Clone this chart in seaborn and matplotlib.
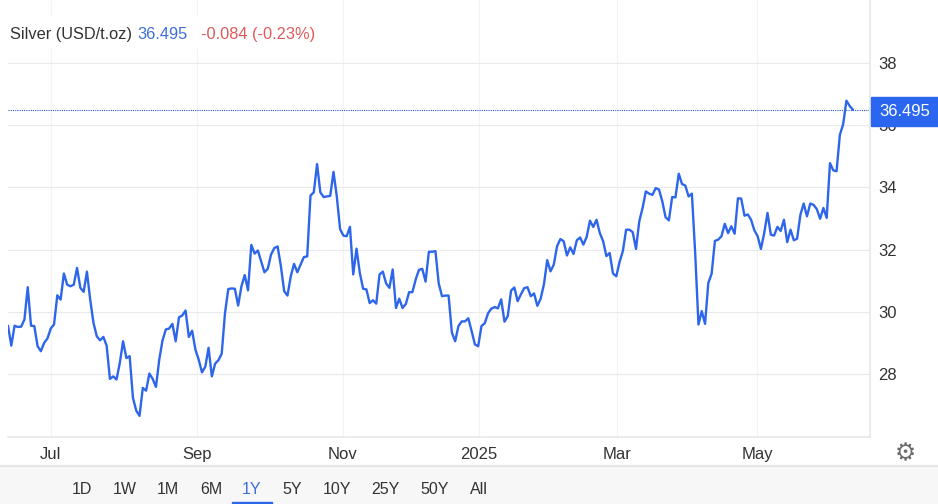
import pandas as pd
import seaborn as sns
import matplotlib.pyplot as plt
from matplotlib.patches import Rectangle

# silver price, one value per trading day
price_2024_a = [29.55, 28.91, 29.55, 29.51, 29.52, 29.75, 30.79, 29.55, 29.54, 28.89,
                28.73, 29.0, 29.14, 29.46, 29.59, 30.53, 30.39, 31.23, 30.87, 30.82,
                30.87, 31.41, 30.77, 30.64, 31.29, 30.39, 29.64, 29.21, 29.08, 29.19,
                28.91, 27.84, 27.92, 27.82, 28.35, 29.05, 28.51, 28.57, 27.23, 26.82,
                26.65, 27.55, 27.46, 28.01, 27.84, 27.58, 28.46, 29.08, 29.43, 29.46,
                29.61, 29.05, 29.82, 29.88, 30.04, 29.19, 29.39, 28.78, 28.46, 28.05,
                28.23, 28.84, 27.92, 28.33, 28.44, 28.65, 29.96, 30.73, 30.75, 30.74,
                30.2, 30.82, 31.18, 30.69, 32.15, 31.87, 31.97, 31.62, 31.27, 31.38,
                31.84, 32.05, 32.1, 31.46, 30.66, 30.52, 31.14, 31.54, 31.27, 31.52,
                31.76, 31.78]
price_2024_b = [33.74, 33.84, 34.75, 33.84, 33.69, 33.71, 33.73, 34.5, 33.71, 32.66,
                32.45, 32.43, 32.73, 31.2, 32.03, 31.25, 30.74, 30.72, 30.28, 30.37,
                30.26, 31.2, 31.29, 30.91, 30.77, 31.36, 30.12, 30.42, 30.12, 30.25,
                30.63, 30.63, 31.04, 31.35, 31.38, 30.97, 31.93, 31.93, 31.95, 30.91,
                30.5, 30.52, 30.52, 29.33, 29.05, 29.54, 29.69, 29.69, 29.79, 29.38,
                28.95, 28.89]
price_2025_a = [29.54, 29.63, 29.95, 30.1, 30.15, 30.11, 30.4, 29.68, 29.86, 30.68,
                30.78, 30.34, 30.56, 30.76, 30.79, 30.5, 30.59, 30.19, 30.42, 30.88,
                31.66, 31.3, 31.52, 32.11, 32.34, 32.27, 31.81, 32.07, 31.86, 32.3,
                32.39, 32.16, 32.41, 32.93, 32.73, 32.96, 32.53, 32.27, 31.79, 31.89,
                31.23, 31.14, 31.6, 31.95]
price_2025_b = [32.64, 32.64, 32.56, 32.02, 32.91, 33.34, 33.87, 33.8, 33.76, 33.98,
                33.93, 33.55, 33.04, 32.94, 33.69, 33.68, 34.44, 34.11, 34.06, 33.71,
                33.8, 31.89, 29.59, 30.02, 29.61, 30.93, 31.22, 32.28, 32.32, 32.43,
                32.83, 32.53, 32.75, 32.51, 33.65, 33.64, 33.09, 33.13, 32.96, 32.62,
                32.43, 32.02, 32.53, 33.18, 32.48, 32.45, 32.73, 32.6, 32.96, 32.24,
                32.64, 32.3, 32.35, 33.12, 33.48, 33.07, 33.48, 33.44, 33.3, 32.99,
                33.34, 33.02, 34.78, 34.55, 34.52, 35.69, 36.03, 36.79, 36.62, 36.495]

month_labels = ['Jul', 'Sep', 'Nov', '2025', 'Mar', 'May']
month_index = [13, 57.4, 101.8, 143.2, 185.2, 227.8]
price_ticks = [28, 30, 32, 34, 36, 38]
ranges = ['1D', '1W', '1M', '6M', '1Y', '5Y', '10Y', '25Y', '50Y', 'All']
range_x = [82, 125, 168, 211, 252, 292, 337, 385, 435, 479]

W, H = 938, 504
LINE = '#2d66ea'
TEXT = '#333333'

sns.set_theme(style='whitegrid', rc={'axes.grid': True, 'grid.color': '#e9e9ed', 'grid.linewidth': 0.8,
                                     'axes.edgecolor': '#e6e6e6', 'axes.linewidth': 1.1})
plt.rcParams['font.family'] = ['Liberation Sans', 'DejaVu Sans']

prices = price_2024_a + price_2024_b + price_2025_a + price_2025_b
df = pd.DataFrame({'day': range(len(prices)), 'price': prices})


def fx(px):
    return px / W


def fy(px):
    return 1 - px / H


fig = plt.figure(figsize=(W / 100, H / 100), dpi=100)
ax = fig.add_axes([fx(8), fy(437), fx(870 - 8), 437 / H])

sns.lineplot(data=df, x='day', y='price', color=LINE, linewidth=1.7, ax=ax, zorder=3)
ax.axhline(prices[-1], color='#2a58c8', linewidth=0.8, linestyle=(0, (1, 1)), zorder=2)

ax.set_xlim(0, (len(prices) - 1) * 862 / 845)
ax.set_ylim(25.97, 40.03)
ax.set_xticks(month_index)
ax.set_xticklabels(month_labels, fontsize=12, color=TEXT)
ax.yaxis.tick_right()
ax.set_yticks(price_ticks)
ax.set_yticklabels(price_ticks, fontsize=12, color=TEXT)
ax.grid(axis='x', color='#f1f3f7')
ax.tick_params(axis='x', length=0, pad=7)
ax.tick_params(axis='y', length=0, pad=6)
ax.set_xlabel('')
ax.set_ylabel('')
ax.spines['top'].set_visible(False)
ax.spines['left'].set_visible(False)

# range selector strip
fig.add_artist(Rectangle((0, 0), 1, fy(466), transform=fig.transFigure, color='#f7f7f7', zorder=1))
fig.add_artist(Rectangle((0, fy(466)), 1, 1 / H, transform=fig.transFigure, color='#e6e6e6', zorder=1))
for label, x in zip(ranges, range_x):
    on = label == '1Y'
    fig.text(fx(x), fy(489), label, fontsize=11.5, ha='center', va='center',
             color='#3f6fd8' if on else TEXT, zorder=2)
fig.add_artist(Rectangle((fx(232), 0), 40 / W, 2 / H, transform=fig.transFigure, color=LINE, zorder=2))

# header, white behind it hides the grid
fig.add_artist(Rectangle((0, fy(47)), fx(322), 30 / H, transform=fig.transFigure, color='white', zorder=2))
fig.text(fx(10), fy(34.5), 'Silver (USD/t.oz)', fontsize=11.8, color=TEXT, va='center', zorder=3)
fig.text(fx(137.5), fy(34.5), '36.495', fontsize=11.8, color='#3f6fd8', va='center', zorder=3)
fig.text(fx(201), fy(34.5), '-0.084 (-0.23%)', fontsize=11.8, color='#e05a5a', va='center', zorder=3)

# last price flag
fig.add_artist(Rectangle((fx(871), fy(125.5)), 67 / W, 29 / H, transform=fig.transFigure, color='#2a66f0', zorder=4))
fig.text(fx(904.5), fy(112), '36.495', fontsize=12, color='white', ha='center', va='center', zorder=5)

# settings icon
fig.text(fx(905), fy(453), '\u2699', fontsize=17, color='#6b6b6b', ha='center', va='center',
         family='DejaVu Sans', zorder=3)

fig.savefig('out.png', dpi=100)
